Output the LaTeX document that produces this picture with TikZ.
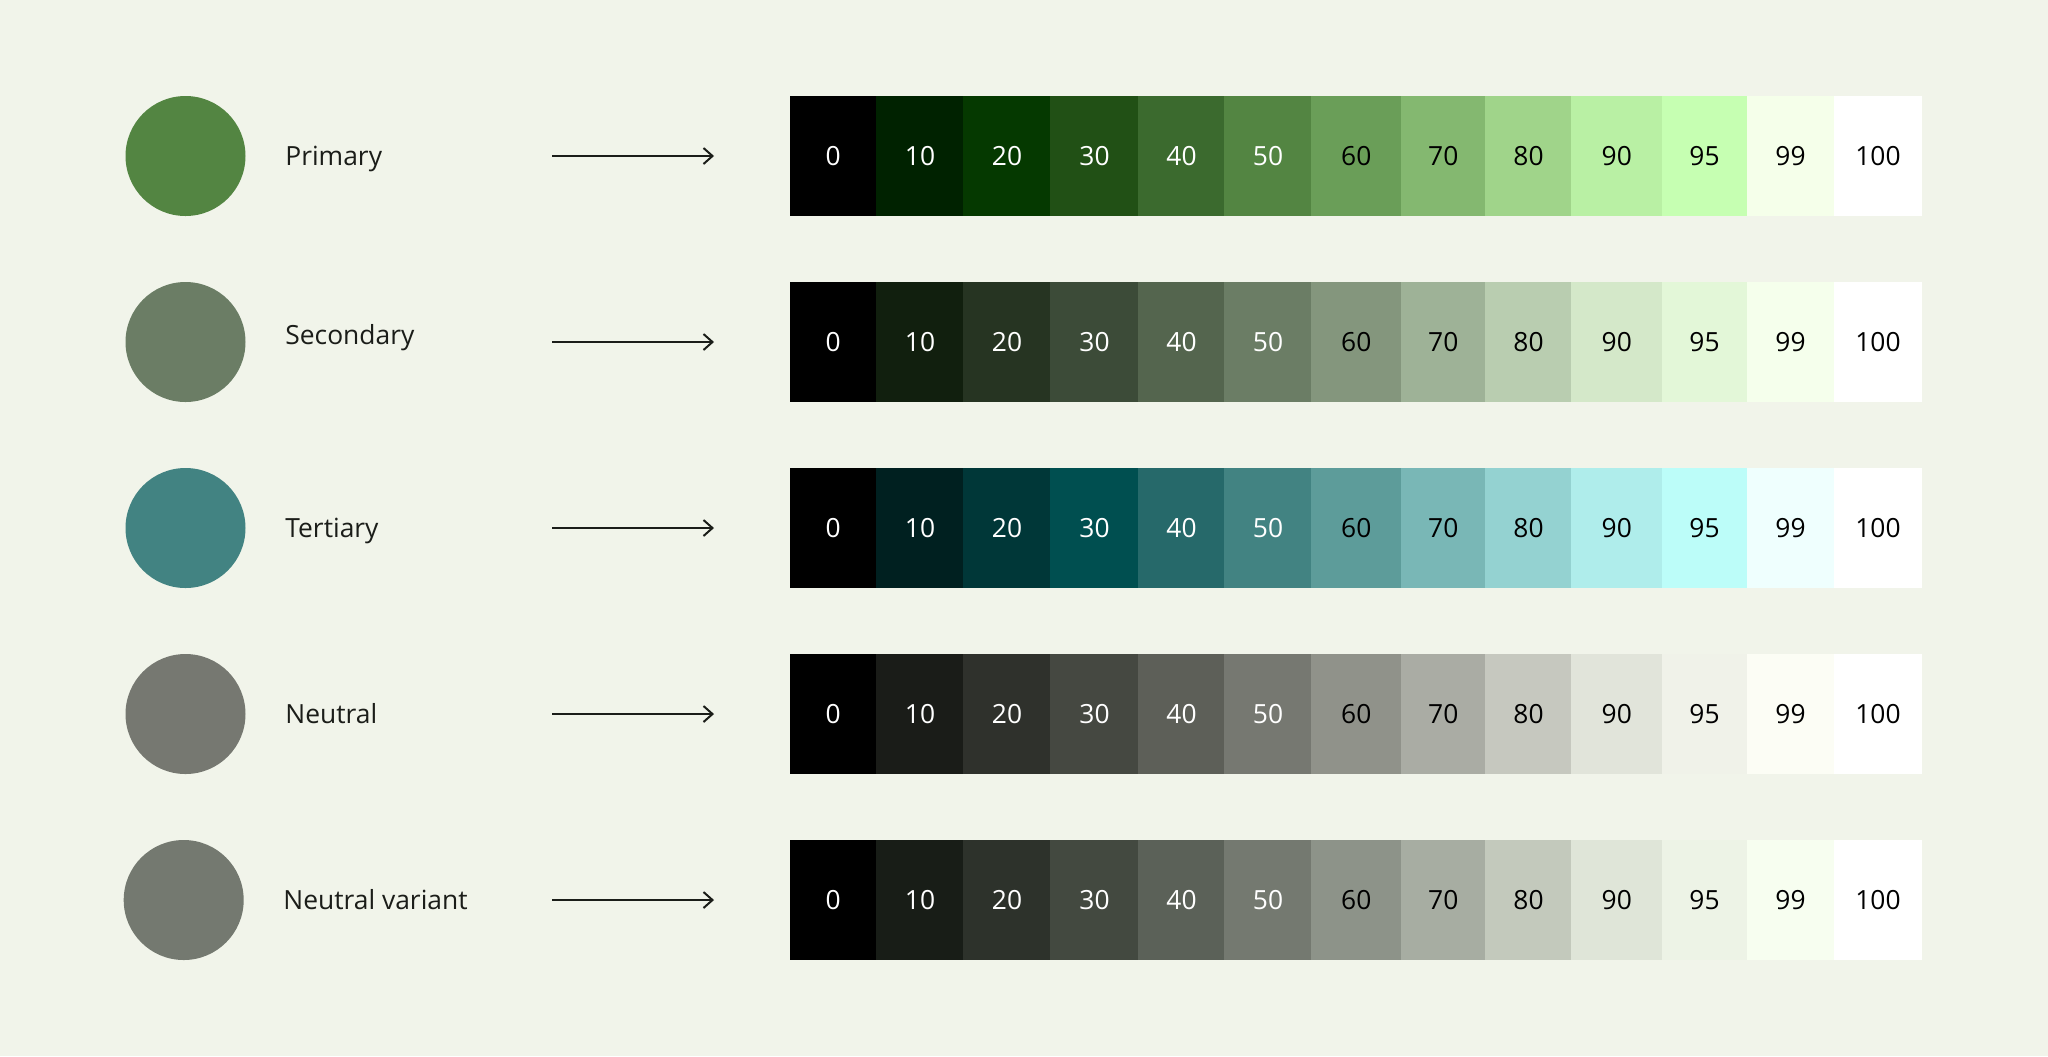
\documentclass[tikz,border=0pt]{standalone}
\usepackage{fontspec}
\setmainfont{Open Sans}
\usetikzlibrary{arrows.meta}
% background and ink
\definecolor{bg}{HTML}{F1F4EA}
\definecolor{ink}{HTML}{1B1D19}
% Primary
\definecolor{P0}{HTML}{000000}\definecolor{P10}{HTML}{002200}\definecolor{P20}{HTML}{053900}
\definecolor{P30}{HTML}{215015}\definecolor{P40}{HTML}{3B6A2E}\definecolor{P50}{HTML}{538542}
\definecolor{P60}{HTML}{6A9E58}\definecolor{P70}{HTML}{84B870}\definecolor{P80}{HTML}{A0D48A}
\definecolor{P90}{HTML}{B9F0A4}\definecolor{P95}{HTML}{C6FFB2}\definecolor{P99}{HTML}{F5FFEA}
\definecolor{P100}{HTML}{FFFFFF}
% Secondary
\definecolor{S0}{HTML}{000000}\definecolor{S10}{HTML}{111F0E}\definecolor{S20}{HTML}{263422}
\definecolor{S30}{HTML}{3C4B38}\definecolor{S40}{HTML}{54654E}\definecolor{S50}{HTML}{6B7D65}
\definecolor{S60}{HTML}{84967D}\definecolor{S70}{HTML}{9EB297}\definecolor{S80}{HTML}{B9CDB0}
\definecolor{S90}{HTML}{D4E8C9}\definecolor{S95}{HTML}{E3F7D8}\definecolor{S99}{HTML}{F5FFEC}
\definecolor{S100}{HTML}{FFFFFF}
% Tertiary
\definecolor{T0}{HTML}{000000}\definecolor{T10}{HTML}{002020}\definecolor{T20}{HTML}{003738}
\definecolor{T30}{HTML}{004F50}\definecolor{T40}{HTML}{26696A}\definecolor{T50}{HTML}{428382}
\definecolor{T60}{HTML}{5D9C9A}\definecolor{T70}{HTML}{79B7B6}\definecolor{T80}{HTML}{94D2D1}
\definecolor{T90}{HTML}{AFEDEB}\definecolor{T95}{HTML}{BCFDF9}\definecolor{T99}{HTML}{EFFFFE}
\definecolor{T100}{HTML}{FFFFFF}
% Neutral
\definecolor{N0}{HTML}{000000}\definecolor{N10}{HTML}{1A1C18}\definecolor{N20}{HTML}{2F312C}
\definecolor{N30}{HTML}{454841}\definecolor{N40}{HTML}{5D5F58}\definecolor{N50}{HTML}{767871}
\definecolor{N60}{HTML}{90928A}\definecolor{N70}{HTML}{AAACA4}\definecolor{N80}{HTML}{C6C8BF}
\definecolor{N90}{HTML}{E1E4DA}\definecolor{N95}{HTML}{F0F2E9}\definecolor{N99}{HTML}{FCFDF5}
\definecolor{N100}{HTML}{FFFFFF}
% Neutral variant
\definecolor{V0}{HTML}{000000}\definecolor{V10}{HTML}{181D17}\definecolor{V20}{HTML}{2D322B}
\definecolor{V30}{HTML}{434940}\definecolor{V40}{HTML}{5B6158}\definecolor{V50}{HTML}{747970}
\definecolor{V60}{HTML}{8D9389}\definecolor{V70}{HTML}{A7ADA2}\definecolor{V80}{HTML}{C3C9BC}
\definecolor{V90}{HTML}{DFE5D8}\definecolor{V95}{HTML}{EDF3E6}\definecolor{V99}{HTML}{F7FEF0}
\definecolor{V100}{HTML}{FFFFFF}
\begin{document}
\begin{tikzpicture}[x=0.5pt,y=-0.5pt,
  swatch/.style={circle,inner sep=0pt,minimum size=60pt},
  rowlabel/.style={anchor=base west,inner sep=0pt,text=ink,font=\fontsize{13.2pt}{16pt}\selectfont},
  cell/.style={rectangle,inner sep=0pt,draw=none,minimum height=60pt,font=\fontsize{13.2pt}{16pt}\selectfont},
  arr/.style={draw=ink,line width=1pt,-{Straight Barb[length=4.5pt,width=8pt,line width=1pt]}}]
\fill[bg] (0,0) rectangle (2048,1056);
\useasboundingbox (0,0) rectangle (2048,1056);
\foreach \r/\y/\p/\lab/\ly/\cx/\lx in {1/156/P/Primary/9/185.5/285,
    2/342/S/Secondary/2/185.5/285,
    3/528/T/Tertiary/9/185.5/285,
    4/714/N/Neutral/9/185.5/285,
    5/900/V/Neutral variant/9/183.7/283}{
  \node[swatch,fill=\p50] (sw\r) at (\cx,\y) {};
  \node[rowlabel] (lab\r) at (\lx,\y+\ly) {\lab};
  \coordinate (as\r) at (552,\y);
  \coordinate (ae\r) at (714,\y);
  \draw[arr] (as\r) -- (ae\r);
  \foreach \t/\a/\b/\tc in {0/790/876.5/white,10/876.5/963.5/white,20/963.5/1050.5/white,
      30/1050.5/1138.5/white,40/1138.5/1224.5/white,50/1224.5/1311.5/white,
      60/1311.5/1401/black,70/1401/1485.5/black,80/1485.5/1571.5/black,
      90/1571.5/1662/black,95/1662/1747/black,99/1747/1834/black,100/1834/1922/black}{
    \node[cell,fill=\p\t,text=\tc,minimum width={(\b-\a)*0.5pt+0.3pt}] (c\r-\t) at ({(\a+\b)/2},\y) {\t};
  }
}
\end{tikzpicture}
\end{document}
